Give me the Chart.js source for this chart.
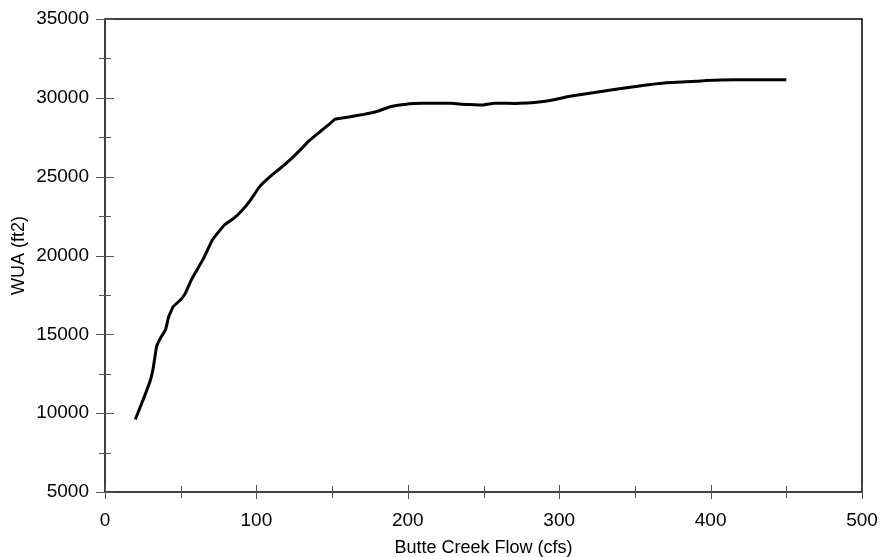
<!DOCTYPE html>
<html>
<head>
<meta charset="utf-8">
<script src="https://cdn.jsdelivr.net/npm/chart.js@4.4.1/dist/chart.umd.min.js"></script>
<style>
  html, body { margin: 0; padding: 0; background: #fff; }
  #wrap { width: 882px; height: 557px; }
</style>
</head>
<body>
<div id="wrap"><canvas id="chart"></canvas></div>
<script>
// Butte Creek flow (cfs) vs WUA (ft2)
var flow = [20, 26, 30, 32, 34, 36, 40, 42, 45, 50, 53, 57, 65, 71, 79, 85, 90, 96, 102, 109,
	116, 122, 129, 135, 142, 149, 152, 162, 171, 180, 189, 199, 210, 228, 235, 250, 257, 274,
	292, 307, 331, 353, 371, 391, 397, 417, 450];
var wua = [9600, 11050, 12100, 12950, 14200, 14650, 15300, 16100, 16750, 17200, 17600, 18450,
	19800, 21000, 21950, 22350, 22800, 23500, 24350, 25000, 25550, 26050, 26700, 27300, 27850,
	28400, 28650, 28800, 28950, 29150, 29450, 29600, 29650, 29650, 29600, 29550, 29650, 29650,
	29800, 30100, 30450, 30750, 30950, 31050, 31100, 31150, 31150];

var xMajor = [0, 100, 200, 300, 400, 500];
var xMinor = [50, 150, 250, 350, 450];
var yMajor = [5000, 10000, 15000, 20000, 25000, 30000, 35000];
var yMinor = [7500, 12500, 17500, 22500, 27500, 32500];

var points = flow.map(function(f, i) { return { x: f, y: wua[i] }; });

// draws the box and the small ticks that cross the axes
var frameTicks = {
	id: "frameTicks",
	afterDraw: function(chart) {
		var ctx = chart.ctx, a = chart.chartArea;
		var sx = chart.scales.x, sy = chart.scales.y;
		ctx.save();
		ctx.strokeStyle = "#000";
		ctx.lineWidth = 1.5;
		ctx.strokeRect(a.left, a.top, a.right - a.left, a.bottom - a.top);
		ctx.lineWidth = 1;
		ctx.strokeStyle = "#555";
		function xt(v, len) {
			var p = Math.round(sx.getPixelForValue(v)) + 0.5;
			ctx.beginPath(); ctx.moveTo(p, a.bottom - len); ctx.lineTo(p, a.bottom + len); ctx.stroke();
		}
		function yt(v, len) {
			var p = Math.round(sy.getPixelForValue(v)) + 0.5;
			ctx.beginPath(); ctx.moveTo(a.left - len, p); ctx.lineTo(a.left + len, p); ctx.stroke();
		}
		xMajor.forEach(function(v) { xt(v, 7); });
		xMinor.forEach(function(v) { xt(v, 6); });
		yMajor.forEach(function(v) { yt(v, 9); });
		yMinor.forEach(function(v) { yt(v, 6); });
		ctx.restore();
	}
};

function noPad(s) {
	s.paddingLeft = 0; s.paddingRight = 0; s.paddingTop = 0; s.paddingBottom = 0;
}

new Chart(document.getElementById("chart"), {
	type: "line",
	data: {
		datasets: [{
			data: points,
			borderColor: "#000",
			borderWidth: 3,
			pointRadius: 0,
			tension: 0.1,
			fill: false
		}]
	},
	options: {
		responsive: true,
		maintainAspectRatio: false,
		animation: false,
		layout: { padding: { left: 0, top: 19, right: 20, bottom: 0 } },
		plugins: { legend: { display: false }, tooltip: { enabled: false } },
		scales: {
			x: {
				type: "linear",
				min: 0, max: 500,
				afterBuildTicks: function(s) { s.ticks = xMajor.map(function(v) { return { value: v }; }); },
				afterFit: function(s) { s.height = 65; noPad(s); },
				grid: { display: false, drawTicks: false },
				border: { display: false },
				ticks: { color: "#000", padding: 17, maxRotation: 0, font: { family: "Liberation Sans", size: 19 },
					callback: function(v) { return String(v); } },
				title: { display: true, text: "Butte Creek Flow (cfs)", color: "#000", padding: { top: 0, bottom: -2 },
					font: { family: "Liberation Sans", size: 18 } }
			},
			y: {
				type: "linear",
				min: 5000, max: 35000,
				afterBuildTicks: function(s) { s.ticks = yMajor.map(function(v) { return { value: v }; }); },
				afterFit: function(s) { s.width = 105; noPad(s); },
				grid: { display: false, drawTicks: false },
				border: { display: false },
				ticks: { color: "#000", padding: 16, font: { family: "Liberation Sans", size: 19 },
					callback: function(v) { return String(v); } },
				title: { display: true, text: "WUA (ft2)", color: "#000", padding: { top: 8, bottom: 0 },
					font: { family: "Liberation Sans", size: 18 } }
			}
		}
	},
	plugins: [frameTicks]
});
</script>
</body>
</html>
